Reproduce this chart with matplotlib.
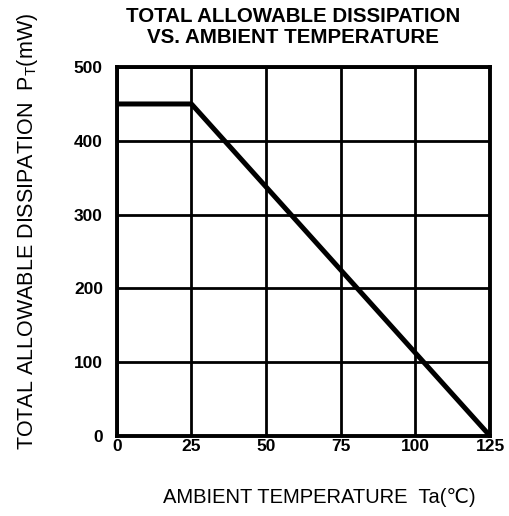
import matplotlib
matplotlib.use("Agg")
import matplotlib.pyplot as plt

plt.rcParams['font.family'] = ['Liberation Sans', 'DejaVu Sans']

# derating curve: ambient temperature (C) vs total allowable dissipation (mW)
temp_c = [0, 25, 125]
power_mw = [450, 450, 0]

x_ticks = [0, 25, 50, 75, 100, 125]
y_ticks = [0, 100, 200, 300, 400, 500]

fig = plt.figure(figsize=(5.1, 5.16), dpi=100)
ax = fig.add_axes([0.229, 0.155, 0.732, 0.715])

ax.plot(temp_c, power_mw, color='black', linewidth=3.6, solid_capstyle='butt')

ax.set_xlim(0, 125)
ax.set_ylim(0, 500)
ax.set_xticks(x_ticks)
ax.set_yticks(y_ticks)
ax.set_xticklabels([str(t) for t in x_ticks], fontsize=12.5, fontweight='bold')
ax.set_yticklabels([str(t) for t in y_ticks], fontsize=12.5, fontweight='bold')
ax.tick_params(axis='x', length=0, pad=2)
ax.tick_params(axis='y', length=0, pad=10)
ax.grid(True, color='black', linewidth=2.0)
for s in ax.spines.values():
    s.set_linewidth(2.8)

fig.text(0.575, 0.968, "TOTAL ALLOWABLE DISSIPATION", ha='center', va='center',
         fontsize=14.8, fontweight='bold')
fig.text(0.575, 0.927, "VS. AMBIENT TEMPERATURE", ha='center', va='center',
         fontsize=14.8, fontweight='bold')
fig.text(0.627, 0.035, "AMBIENT TEMPERATURE  Ta(\u2103)", ha='center', va='center',
         fontsize=14.5)
fig.text(0.053, 0.552, "TOTAL ALLOWABLE DISSIPATION  P$_\\mathregular{T}$(mW)",
         ha='center', va='center', rotation=90, fontsize=15.5)

fig.savefig("out.png", dpi=100)
